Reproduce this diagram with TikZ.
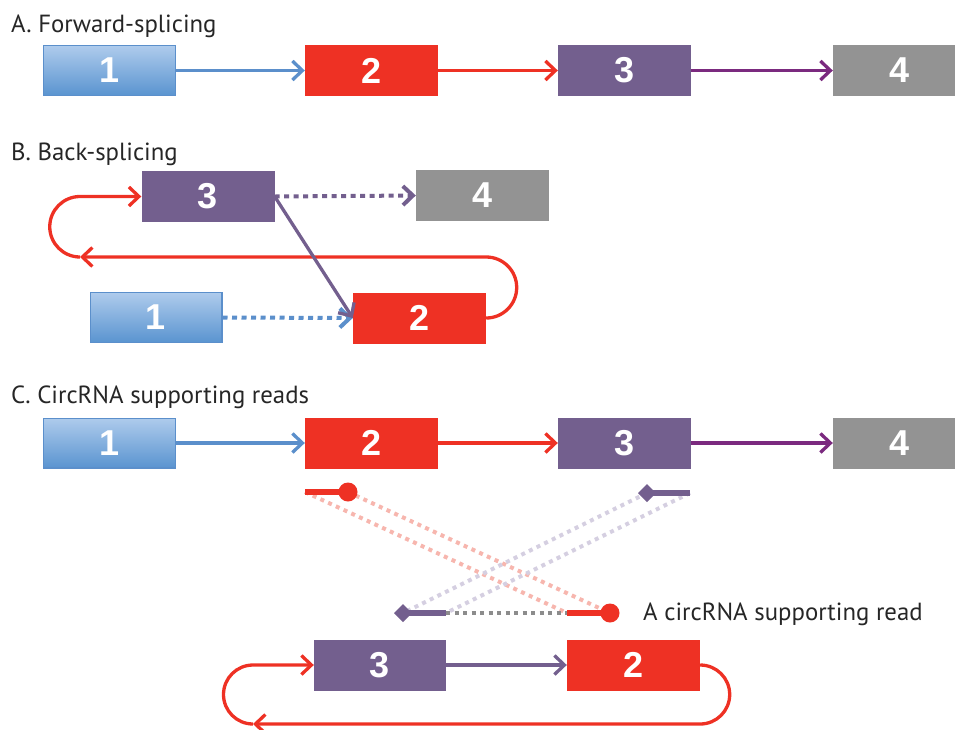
\documentclass[tikz,border=0pt]{standalone}
\usepackage{fontspec}
\setmainfont{PT Sans}
\newfontfamily\numfont{Liberation Sans}
\usetikzlibrary{arrows.meta}

\definecolor{exblue}{HTML}{5B8FCB}
\definecolor{exbluetop}{HTML}{AECBEC}
\definecolor{exbluebot}{HTML}{5A94D0}
\definecolor{exred}{HTML}{EE3124}
\definecolor{expurple}{HTML}{735F8E}
\definecolor{exmagenta}{HTML}{7B2A7F}
\definecolor{exgrey}{HTML}{939393}
\definecolor{pinkdot}{HTML}{F7B6AE}
\definecolor{lavdot}{HTML}{D5CFE1}
\definecolor{greydot}{HTML}{8C8C8C}

\tikzset{
  exbox/.style={minimum width=133pt, minimum height=51pt, inner sep=0pt,
    text=white, font=\numfont\bfseries\fontsize{36}{36}\selectfont},
  bluebox/.style={exbox, top color=exbluetop, bottom color=exbluebot,
    draw=exblue, line width=1.2pt, minimum width=131.8pt, minimum height=49.8pt},
  redbox/.style={exbox, fill=exred},
  purplebox/.style={exbox, fill=expurple},
  greybox/.style={exbox, fill=exgrey},
  heading/.style={anchor=base west, inner sep=0pt, font=\fontsize{24.8}{24.8}\selectfont, text=black!85},
  flow/.style={line width=3.3pt, ->},
  dotflow/.style={line width=4pt, dash pattern=on 5pt off 4.5pt, ->},
  faint/.style={line width=4pt, dash pattern=on 4pt off 4.5pt},
  readline/.style={line width=6pt},
  >={Straight Barb[length=10pt,width=19pt]}
}

\begin{document}
\begin{tikzpicture}[x=1pt, y=-1pt]
\useasboundingbox (0,0) rectangle (955,729);
\clip (0,0) rectangle (955,729);

% ---------- A. forward splicing ----------
\node[heading] (ta) at (11,32) {A. Forward-splicing};
\node[bluebox]   (a1) at (109.5,70.5) {1};
\node[redbox]    (a2) at (371.5,70.5) {2};
\node[purplebox] (a3) at (624.5,70.5) {3};
\node[greybox]   (a4) at (899.5,70.5) {4};
\draw[flow, exblue]    (a1.east) -- (a2.west);
\draw[flow, exred]     (a2.east) -- (a3.west);
\draw[flow, exmagenta] (a3.east) -- (a4.west);

% ---------- B. back splicing ----------
\node[heading] (tb) at (11,160) {B. Back-splicing};
\node[purplebox] (b3) at (208,196.5) {3};
\node[greybox]   (b4) at (482.5,195.5) {4};
\node[bluebox]   (b1) at (156,317.5) {1};
\node[redbox]    (b2) at (419.5,318) {2};
\coordinate (bturn) at (80,257);
\draw[dotflow, expurple] (b3.east) -- (b4.west);
\draw[dotflow, exblue]   (b1.east) -- (b2.west);
\draw[flow, exred] (b2.east) arc[start angle=-90, end angle=90, radius=30.5pt] -- (bturn);
\draw[flow, exred] (bturn) arc[start angle=270, end angle=90, radius=30.25pt] -- (b3.west);
\draw[flow, expurple] (b3.east) -- (b2.west);

% ---------- C. circRNA supporting reads ----------
\node[heading] (tc) at (11,403) {C. CircRNA supporting reads};
\node[bluebox]   (c1) at (109.5,443) {1};
\node[redbox]    (c2) at (371.5,443) {2};
\node[purplebox] (c3) at (624.5,443) {3};
\node[greybox]   (c4) at (899.5,443) {4};
\draw[flow, exblue]    (c1.east) -- (c2.west);
\draw[flow, exred]     (c2.east) -- (c3.west);
\draw[flow, exmagenta] (c3.east) -- (c4.west);

% read ends on the linear transcript and on the junction
\coordinate (rt0) at (305,492);
\coordinate (rt1) at (348,492);
\coordinate (pt0) at (647,493);
\coordinate (pt1) at (690,493);
\coordinate (pb0) at (403,613);
\coordinate (pb1) at (446,613);
\coordinate (rb0) at (567,613);
\coordinate (rb1) at (610,613);

% mapping guides
\draw[faint, pinkdot] (rt0) -- (rb0);
\draw[faint, pinkdot] (rt1) -- (rb1);
\draw[faint, lavdot]  (pt0) -- (pb0);
\draw[faint, lavdot]  (pt1) -- (pb1);
\draw[faint, greydot] (pb1) -- (rb0);

% read segments
\draw[readline, exred] (rt0) -- (rt1);
\fill[exred] (rt1) circle[radius=9.5pt];
\draw[readline, expurple] (pt0) -- (pt1);
\fill[expurple] (pt0) +(-9,0) -- +(0,-9) -- +(9,0) -- +(0,9) -- cycle;
\draw[readline, expurple] (pb0) -- (pb1);
\fill[expurple] (pb0) +(-9,0) -- +(0,-9) -- +(9,0) -- +(0,9) -- cycle;
\draw[readline, exred] (rb0) -- (rb1);
\fill[exred] (rb1) circle[radius=9.5pt];
\node[anchor=base west, inner sep=0pt, font=\fontsize{24.8}{24.8}\selectfont, text=black!85] (lbl) at (643,620) {A circRNA supporting read};

% circular product
\node[purplebox, minimum width=132pt] (d3) at (380,665) {3};
\node[redbox] (d2) at (633.5,665) {2};
\coordinate (dturn) at (253,724);
\draw[flow, expurple] (d3.east) -- (d2.west);
\draw[flow, exred] (d2.east) arc[start angle=90, end angle=-90, radius=29.5pt] -- (dturn);
\draw[flow, exred] (dturn) arc[start angle=270, end angle=90, radius=29.5pt] -- (d3.west);
\end{tikzpicture}
\end{document}
